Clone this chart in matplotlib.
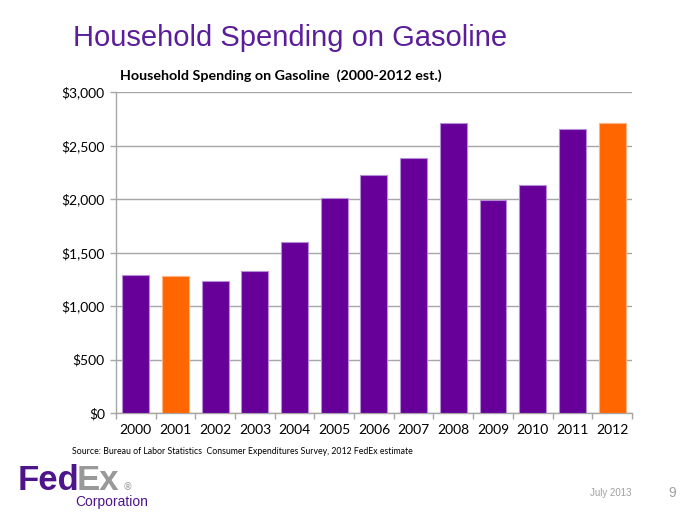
import matplotlib
matplotlib.use("Agg")
import matplotlib.pyplot as plt
from matplotlib.ticker import FuncFormatter

years = ['2000', '2001', '2002', '2003', '2004', '2005', '2006',
         '2007', '2008', '2009', '2010', '2011', '2012']
spending = [1290, 1280, 1235, 1330, 1595, 2010, 2225,
            2380, 2710, 1990, 2130, 2650, 2715]
highlight = ['2001', '2012']

PURPLE = '#660099'
ORANGE = '#FF6600'
TITLE_PURPLE = '#5B1E9A'
GRID = '#A6A6A6'

fig = plt.figure(figsize=(7, 5.25), dpi=100)
ax = fig.add_axes([0.1657, 0.2133, 0.737, 0.6114])

colors = [ORANGE if y in highlight else PURPLE for y in years]
edges = ['#FFB380' if y in highlight else '#B48FD6' for y in years]
xpos = range(len(years))
ax.bar(xpos, spending, width=0.68, color=colors, edgecolor=edges, linewidth=0.8, zorder=3)

ax.set_xlim(-0.5, len(years) - 0.5)
ax.set_ylim(0, 3000)
ax.set_yticks(range(0, 3001, 500))
ax.yaxis.set_major_formatter(FuncFormatter(lambda v, p: f"${v:,.0f}"))
ax.set_xticks(list(xpos))
ax.set_xticklabels(years)
ax.set_xticks([i - 0.5 for i in range(len(years) + 1)], minor=True)
ax.tick_params(axis='x', which='major', length=0, pad=8, labelsize=10)
ax.tick_params(axis='x', which='minor', length=4, color=GRID, width=1)
ax.tick_params(axis='y', length=4, color=GRID, width=1, labelsize=10, pad=4)
for lab in ax.get_xticklabels() + ax.get_yticklabels():
    lab.set_family('Lato')
ax.grid(axis='y', color=GRID, linewidth=1, zorder=0)
for s in ['top', 'right']:
    ax.spines[s].set_visible(False)
for s in ['left', 'bottom']:
    ax.spines[s].set_color(GRID)
    ax.spines[s].set_linewidth(1)

fig.text(120 / 700, 1 - 76 / 525, "Household Spending on Gasoline  (2000-2012 est.)",
         fontsize=10.3, fontweight='bold', family='Lato', va='center', ha='left')
fig.text(73 / 700, 1 - 38 / 525, "Household Spending on Gasoline",
         fontsize=21, color=TITLE_PURPLE, family='Liberation Sans', va='center', ha='left')
fig.text(72 / 700, 1 - 452 / 525,
         "Source: Bureau of Labor Statistics  Consumer Expenditures Survey, 2012 FedEx estimate",
         fontsize=6.3, family='Lato', va='center', ha='left')

# FedEx logo
fed = fig.text(18 / 700, 1 - 490 / 525, "Fed", fontsize=25, fontweight='bold',
               family='Liberation Sans', color='#4D148C', va='baseline', ha='left')
fig.canvas.draw()
bb = fed.get_window_extent()
ex_x = bb.x1 / fig.bbox.width - 0.004
ex = fig.text(ex_x, 1 - 490 / 525, "Ex", fontsize=25, fontweight='bold',
              family='Liberation Sans', color='#999999', va='baseline', ha='left')
fig.canvas.draw()
bb2 = ex.get_window_extent()
fig.text(bb2.x1 / fig.bbox.width + 0.004, 1 - 490 / 525, "®", fontsize=7,
         color='#999999', va='baseline', ha='left')
fig.text(75 / 700, 1 - 502 / 525, "Corporation", fontsize=10, color='#4D148C',
         family='Liberation Sans', va='center', ha='left')

fig.text(611 / 700, 1 - 493 / 525, "July 2013", fontsize=7, color='#A0A0A0',
         family='Liberation Sans', va='center', ha='center')
fig.text(672 / 700, 1 - 493 / 525, "9", fontsize=10, color='#A0A0A0',
         family='Liberation Sans', va='center', ha='center')

fig.savefig("out.png", dpi=100)
